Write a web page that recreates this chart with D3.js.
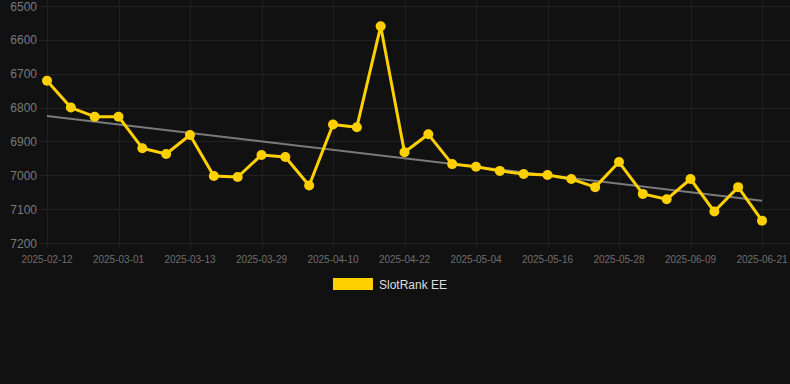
<!DOCTYPE html>
<html><head><meta charset="utf-8">
<script src="https://cdn.jsdelivr.net/npm/d3@7/dist/d3.min.js"></script>
<style>
html,body{margin:0;padding:0;background:#111111;}
svg{display:block;}
text{font-family:"Liberation Sans",Arial,sans-serif;}
</style></head>
<body>
<script>
const dates = ["2025-02-12","2025-02-18","2025-02-24","2025-03-01","2025-03-05","2025-03-09","2025-03-13","2025-03-17","2025-03-23","2025-03-29","2025-04-02","2025-04-06","2025-04-10","2025-04-14","2025-04-18","2025-04-22","2025-04-26","2025-04-30","2025-05-04","2025-05-08","2025-05-12","2025-05-16","2025-05-20","2025-05-24","2025-05-28","2025-06-01","2025-06-05","2025-06-09","2025-06-13","2025-06-17","2025-06-21"];
const rankValues = [6721,6800,6827,6827,6920,6937,6881,7002,7005,6940,6946,7030,6850,6858,6560,6932,6879,6967,6975,6987,6996,6999,7011,7035,6961,7055,7071,7011,7107,7035,7134];
const trendValues = [6825,7075];
const yTicks = [6500,6600,6700,6800,6900,7000,7100,7200];
const xTickLabels = ["2025-02-12","2025-03-01","2025-03-13","2025-03-29","2025-04-10","2025-04-22","2025-05-04","2025-05-16","2025-05-28","2025-06-09","2025-06-21"];
const seriesName = "SlotRank EE";

const W=790,H=384;
const svg=d3.select("body").append("svg").attr("width",W).attr("height",H);
svg.append("rect").attr("width",W).attr("height",H).attr("fill","#111111");

const x=d3.scalePoint().domain(dates).range([47,762]);
const y=d3.scaleLinear().domain([6500,7200]).range([6,243]);

// horizontal grid
svg.append("g").selectAll("line").data(yTicks).join("line")
  .attr("x1",39).attr("x2",790).attr("y1",d=>Math.round(y(d))+0.5).attr("y2",d=>Math.round(y(d))+0.5)
  .attr("stroke","#222222").attr("stroke-width",1);
// vertical grid
svg.append("g").selectAll("line").data(xTickLabels).join("line")
  .attr("x1",d=>Math.round(x(d))+0.5).attr("x2",d=>Math.round(x(d))+0.5)
  .attr("y1",0).attr("y2",248)
  .attr("stroke","#1f1f1f").attr("stroke-width",1);

// y labels
svg.append("g").selectAll("text").data(yTicks).join("text")
  .attr("x",37).attr("y",d=>y(d)+4.5).attr("text-anchor","end")
  .attr("font-size",12).attr("fill","#7a7a7a").text(d=>d);
// x labels
svg.append("g").selectAll("text").data(xTickLabels).join("text")
  .attr("x",d=>x(d)).attr("y",263).attr("text-anchor","middle")
  .attr("font-size",10).attr("fill","#6e6e6e").text(d=>d);

// trend line
svg.append("line")
  .attr("x1",x(dates[0])).attr("y1",y(trendValues[0]))
  .attr("x2",x(dates[dates.length-1])).attr("y2",y(trendValues[1]))
  .attr("stroke","#7a7a7a").attr("stroke-width",2);

const data=dates.map((d,i)=>({d,v:rankValues[i]}));
svg.append("path").datum(data)
  .attr("d",d3.line().x(p=>x(p.d)).y(p=>y(p.v)))
  .attr("fill","none").attr("stroke","#FFD000").attr("stroke-width",3).attr("stroke-linejoin","round");
svg.append("g").selectAll("circle").data(data).join("circle")
  .attr("cx",p=>x(p.d)).attr("cy",p=>y(p.v)).attr("r",5).attr("fill","#FFD000");

// legend
svg.append("rect").attr("x",333).attr("y",278).attr("width",40).attr("height",12).attr("fill","#FFD000");
svg.append("text").attr("x",379).attr("y",289).attr("font-size",12).attr("fill","#dddddd").text(seriesName);
</script>
</body></html>
